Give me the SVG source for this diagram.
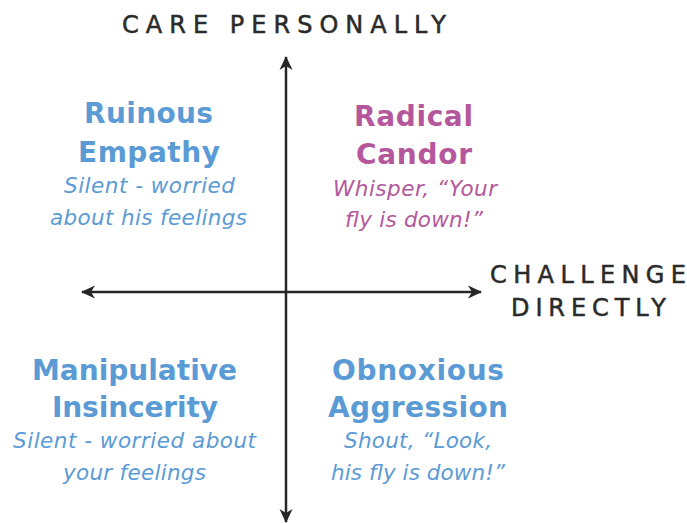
<svg xmlns="http://www.w3.org/2000/svg" width="687" height="523" viewBox="0 0 687 523">
  <style>
    .axis-label { font-family: "DejaVu Sans", "Liberation Sans", sans-serif; font-size: 24px; fill: #2a2a2a; stroke: #2a2a2a; stroke-width: 0.5; text-anchor: middle; }
    .title { font-family: "DejaVu Sans", "Liberation Sans", sans-serif; font-size: 28px; font-weight: 700; text-anchor: middle; }
    .note { font-family: "DejaVu Sans", "Liberation Sans", sans-serif; font-size: 21.5px; font-style: italic; text-anchor: middle; }
    .blue { fill: #5b9bd5; }
    .pink { fill: #b5579c; }
    .axis { stroke: #262626; stroke-width: 2.5; fill: none; }
  </style>
  <defs>
    <marker id="head" viewBox="0 0 14 14" refX="13" refY="7" markerWidth="14" markerHeight="14" markerUnits="userSpaceOnUse" orient="auto">
      <path d="M0,0.5 L14,7 L0,13.5 L4,7 Z" fill="#262626"/>
    </marker>
  </defs>
  <rect width="687" height="523" fill="#ffffff"/>

  <g id="connectors">
    <line class="axis" x1="286" y1="292" x2="286" y2="57" marker-end="url(#head)"/>
    <line class="axis" x1="286" y1="292" x2="286" y2="522" marker-end="url(#head)"/>
    <line class="axis" x1="286" y1="292" x2="82" y2="292" marker-end="url(#head)"/>
    <line class="axis" x1="286" y1="292" x2="481" y2="292" marker-end="url(#head)"/>
  </g>

  <g id="axis-care">
    <text class="axis-label" x="284" y="33" textLength="324">CARE PERSONALLY</text>
  </g>
  <g id="axis-challenge">
    <text class="axis-label" x="588" y="283" textLength="196">CHALLENGE</text>
    <text class="axis-label" x="588.5" y="316" textLength="155">DIRECTLY</text>
  </g>

  <g id="ruinous-empathy">
    <text class="title blue" x="148.5" y="123" textLength="129">Ruinous</text>
    <text class="title blue" x="149" y="162" textLength="142">Empathy</text>
    <text class="note blue" x="149.5" y="193" textLength="171">Silent - worried</text>
    <text class="note blue" x="148.5" y="225" textLength="197">about his feelings</text>
  </g>

  <g id="radical-candor">
    <text class="title pink" x="413.5" y="126" textLength="119">Radical</text>
    <text class="title pink" x="414" y="164" textLength="116">Candor</text>
    <text class="note pink" x="415" y="196" textLength="164">Whisper, “Your</text>
    <text class="note pink" x="414" y="227" textLength="138">fly is down!”</text>
  </g>

  <g id="manipulative-insincerity">
    <text class="title blue" x="134.5" y="380" textLength="205">Manipulative</text>
    <text class="title blue" x="135" y="417" textLength="166">Insincerity</text>
    <text class="note blue" x="134.5" y="448" textLength="243">Silent - worried about</text>
    <text class="note blue" x="134.5" y="480" textLength="143">your feelings</text>
  </g>

  <g id="obnoxious-aggression">
    <text class="title blue" x="418" y="380" textLength="172">Obnoxious</text>
    <text class="title blue" x="418" y="417" textLength="180">Aggression</text>
    <text class="note blue" x="418" y="448" textLength="148">Shout, “Look,</text>
    <text class="note blue" x="418" y="480" textLength="174">his fly is down!”</text>
  </g>
</svg>
